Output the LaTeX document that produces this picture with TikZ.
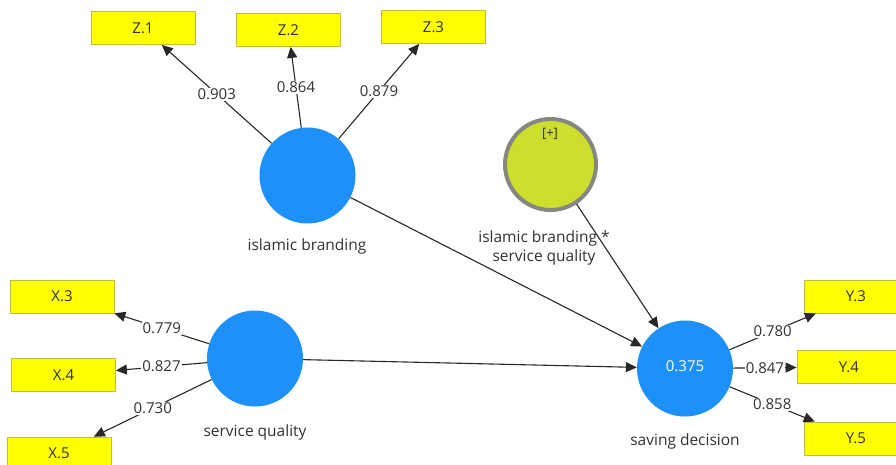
\documentclass[tikz,border=0pt]{standalone}
\usepackage{fontspec}
\setmainfont{Open Sans}
\usetikzlibrary{arrows.meta}
\definecolor{plsblue}{RGB}{30,144,250}
\definecolor{plsyellow}{RGB}{255,255,0}
\definecolor{boxborder}{RGB}{190,190,60}
\definecolor{modfill}{RGB}{205,222,45}
\definecolor{modborder}{RGB}{135,135,130}
\definecolor{linec}{RGB}{40,40,40}
\definecolor{txt}{RGB}{50,50,50}
\tikzset{
  lv/.style={circle, fill=plsblue, minimum size=96pt, inner sep=0pt},
  modlv/.style={circle, fill=modfill, draw=modborder, line width=4pt, minimum size=91pt, inner sep=0pt},
  ind/.style={rectangle, fill=plsyellow, draw=boxborder, line width=0.8pt, minimum width=104pt, minimum height=33pt, inner sep=0pt, text=txt, font=\fontsize{15}{18}\selectfont},
  conn/.style={draw=linec, line width=1.1pt, -{Triangle[length=11pt,width=10pt]}},
  lab/.style={fill=white, inner sep=1pt, text=txt, font=\fontsize{15}{18}\selectfont},
  lvname/.style={text=txt, font=\fontsize{15.5}{19}\selectfont, align=center},
}
\begin{document}
\begin{tikzpicture}[x=1pt,y=-1pt]
\clip (0,0) rectangle (896,464);
\fill[white] (0,0) rectangle (896,464);
% latent variables
\node[lv] (ib) at (307.5,175.5) {};
\node[modlv] (mod) at (550.5,164.5) {};
\node[lv] (sq) at (255,358.5) {};
\node[lv, text=white, font=\fontsize{15}{18}\selectfont, text depth=4pt] (sd) at (685,368.5) {0.375};
% names
\node[lvname] (ibn) at (307,246) {islamic branding};
\node[lvname] (sqn) at (255,432) {service quality};
\node[lvname] (sdn) at (685,441) {saving decision};
\node[lvname] (modn) at (544,247.5) {islamic branding *\\service quality};
\node[text=txt, font=\fontsize{13}{15}\selectfont] (plus) at (550,134) {[+]};
% indicators
\node[ind] (z1) at (143,28) {Z.1};
\node[ind] (z2) at (288.5,30) {Z.2};
\node[ind] (z3) at (433.5,27) {Z.3};
\node[ind] (x3) at (62,296.5) {X.3};
\node[ind] (x4) at (63.5,375) {X.4};
\node[ind] (x5) at (59,453.5) {X.5};
\node[ind] (y3) at (856,296.5) {Y.3};
\node[ind] (y4) at (849,367) {Y.4};
\node[ind] (y5) at (856,438.5) {Y.5};
% structural paths
\draw[conn] (ib) -- (sd);
\draw[conn] (mod) -- (sd);
\draw[conn] (sq) -- (sd);
% outer loadings
\draw[conn] (ib) -- node[lab] {0.903} (z1);
\draw[conn] (ib) -- node[lab] {0.864} (z2);
\draw[conn] (ib) -- node[lab] {0.879} (z3);
\draw[conn] (sq) -- node[lab] {0.779} (x3);
\draw[conn] (sq) -- node[lab] {0.827} (x4);
\draw[conn] (sq) -- node[lab] {0.730} (x5);
\draw[conn] (sd) -- node[lab] {0.780} (y3);
\draw[conn] (sd) -- node[lab] {0.847} (y4);
\draw[conn] (sd) -- node[lab] {0.858} (y5);
\end{tikzpicture}
\end{document}
